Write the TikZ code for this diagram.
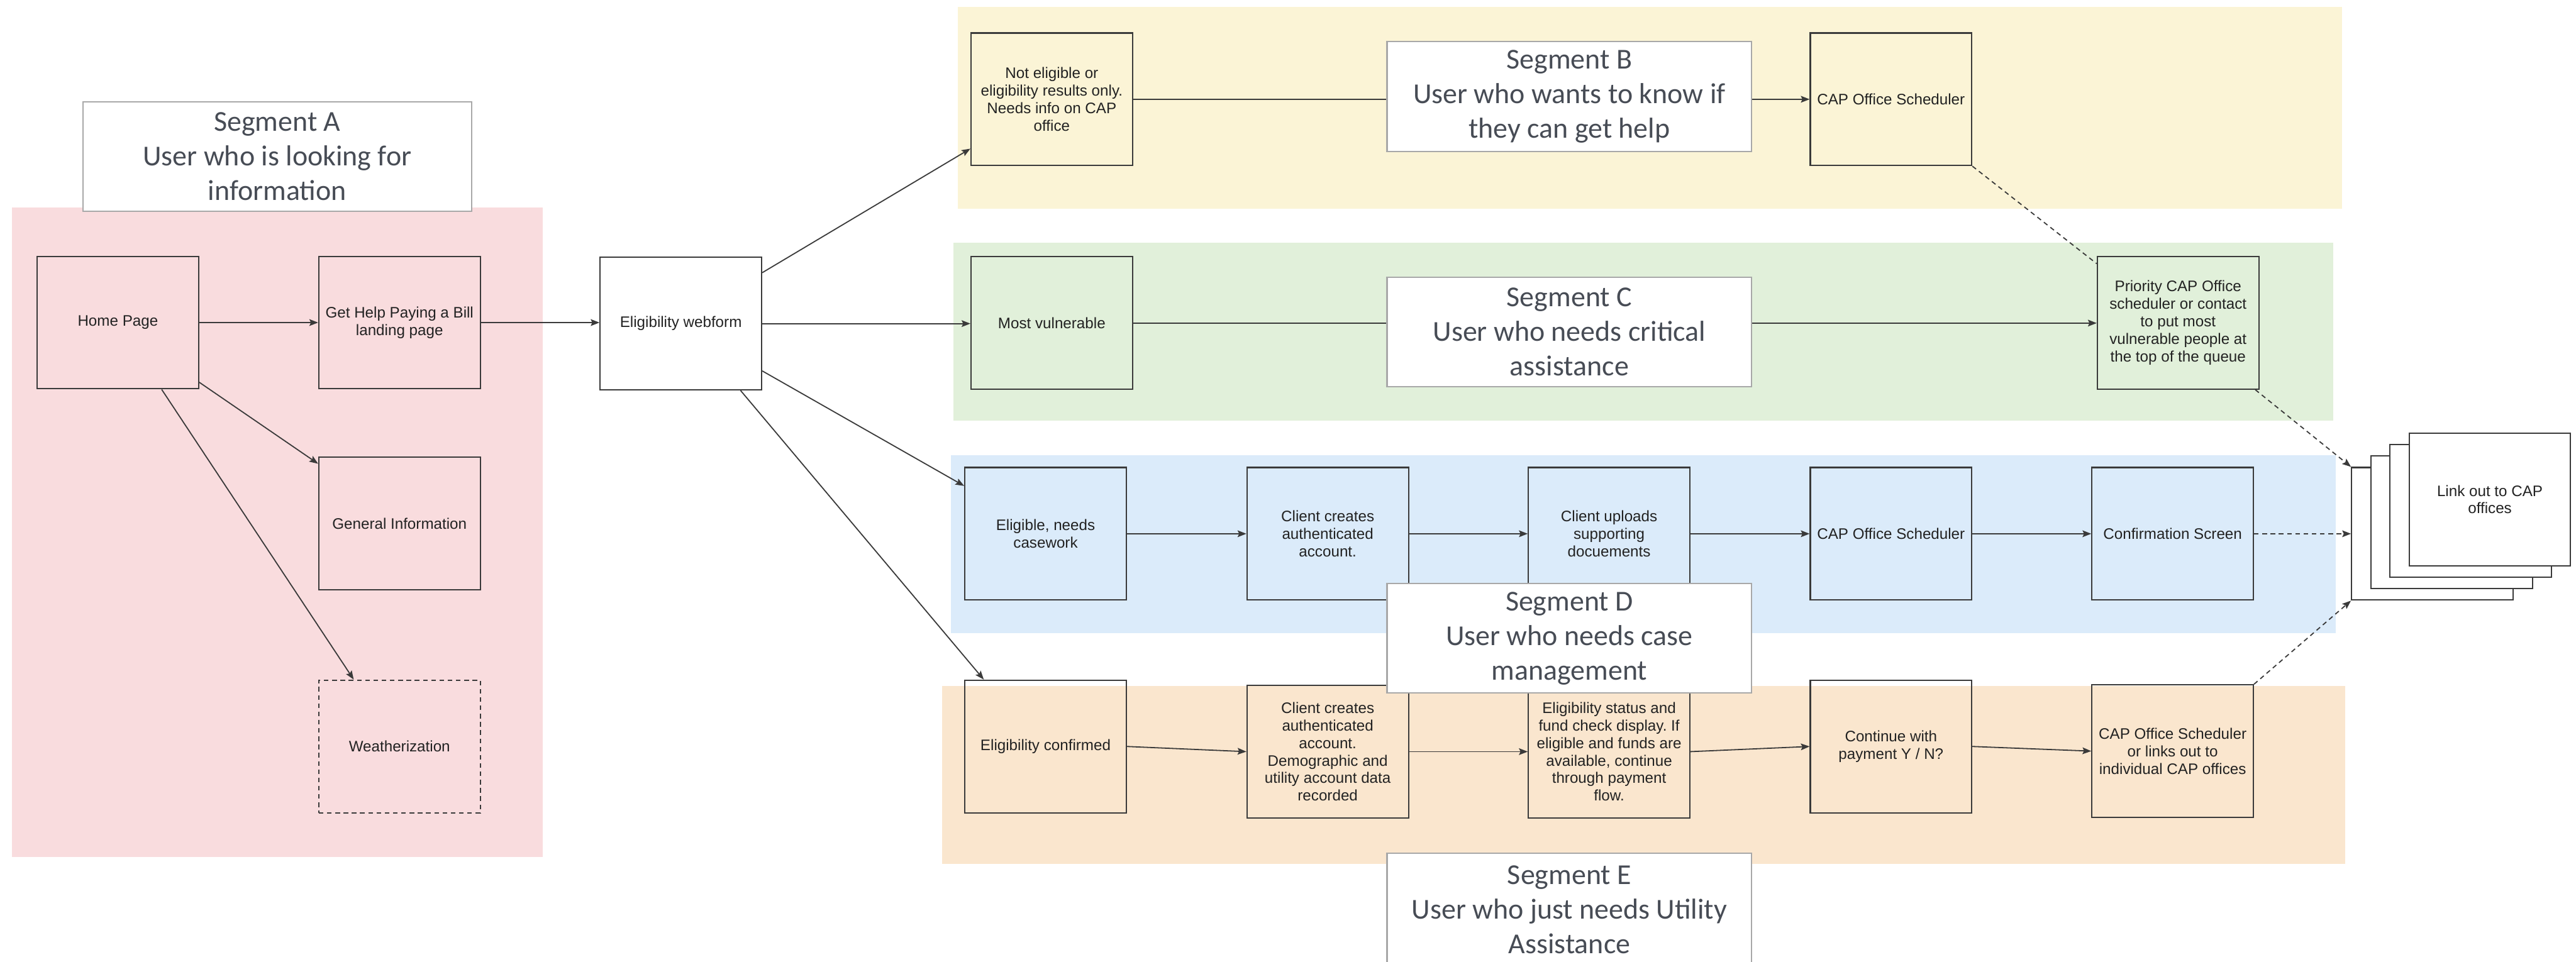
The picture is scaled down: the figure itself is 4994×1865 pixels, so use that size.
\documentclass[tikz,border=0pt]{standalone}
\usepackage{fontspec}
\setmainfont{Liberation Sans}
\newfontfamily\segfont{Carlito}
\usetikzlibrary{arrows.meta,calc}
\frenchspacing
\definecolor{pinkc}{HTML}{F9DCDE}
\definecolor{yellowc}{HTML}{FBF4D6}
\definecolor{greenc}{HTML}{E1F0DA}
\definecolor{bluec}{HTML}{DBEBFA}
\definecolor{orangec}{HTML}{FAE6CE}
\definecolor{boxline}{HTML}{3A3A3A}
\definecolor{txt}{HTML}{222222}
\definecolor{segtxt}{HTML}{474C55}
\definecolor{segline}{HTML}{A8A8A8}
\tikzset{
  stepbox/.style={draw=boxline, line width=2.5pt, minimum width=313pt, minimum height=257pt,
    inner sep=0pt, align=center, text=txt, font=\fontsize{29.5}{34}\selectfont},
  dashbox/.style={stepbox, dash pattern=on 9pt off 7pt},
  stackbox/.style={stepbox, fill=white},
  seglabel/.style={draw=segline, line width=2.5pt, fill=white, inner sep=0pt, align=center,
    text=segtxt, font=\segfont\fontsize{56}{67}\selectfont},
  conn/.style={draw=boxline, line width=2.2pt, -{Stealth[length=17pt,width=13pt,inset=3pt]}},
  dconn/.style={conn, dash pattern=on 9pt off 7pt},
  dline/.style={draw=boxline, line width=2.2pt, dash pattern=on 9pt off 7pt},
  pline/.style={draw=boxline, line width=2.2pt}
}
\begin{document}
\begin{tikzpicture}[x=1pt,y=-1pt]
\useasboundingbox (0,0) rectangle (4994,1865);
% regions
\fill[pinkc] (23,402) rectangle (1052,1662);
\fill[yellowc] (1857,13) rectangle (4540,405);
\fill[greenc] (1848,471) rectangle (4523,816);
\fill[bluec] (1844,883) rectangle (4528,1228);
\fill[orangec] (1827,1330) rectangle (4546,1675);

% Segment A boxes
\node[stepbox] (home) at (228.5,625.5) {Home Page};
\node[stepbox] (gethelp) at (774.5,625.5) {Get Help Paying a Bill\\landing page};
\node[stepbox] (geninfo) at (774.5,1015) {General Information};
\node[dashbox] (weather) at (774.5,1447.5) {Weatherization};
\node[stepbox] (webform) at (1320,627.5) {Eligibility webform};

% Segment B
\node[stepbox] (notelig) at (2039,192.5) {Not eligible or\\eligibility results only.\\Needs info on CAP\\office};
\node[stepbox] (schedB) at (3666,192.5) {CAP Office Scheduler};

% Segment C
\node[stepbox] (mostvul) at (2039,626.5) {Most vulnerable};
\node[stepbox] (priority) at (4222.5,626) {Priority CAP Office\\scheduler or contact\\to put most\\vulnerable people at\\the top of the queue};

% Segment D
\node[stepbox] (casework) at (2027,1035) {Eligible, needs\\casework};
\node[stepbox] (createD) at (2574,1035) {Client creates\\authenticated\\account.};
\node[stepbox] (uploads) at (3119.5,1035) {Client uploads\\supporting\\docuements};
\node[stepbox] (schedD) at (3666,1035) {CAP Office Scheduler};
\node[stepbox] (confirm) at (4212,1035) {Confirmation Screen};

% Segment E
\node[stepbox] (confirmed) at (2027,1447.5) {Eligibility confirmed};
\node[stepbox] (createE) at (2574,1457.5) {Client creates\\authenticated\\account.\\Demographic and\\utility account data\\recorded};
\node[stepbox] (status) at (3119.5,1457.5) {Eligibility status and\\fund check display. If\\eligible and funds are\\available, continue\\through payment\\flow.};
\node[stepbox] (payment) at (3666,1447.5) {Continue with\\payment Y / N?};
\node[stepbox] (schedE) at (4212,1456.5) {CAP Office Scheduler\\or links out to\\individual CAP offices};

% connectors A
\draw[conn] (home.east) -- (gethelp.west);
\draw[conn] ($(home.south east)+(0,-14)$) -- ($(geninfo.north west)+(0,14)$);
\draw[conn] ($(home.south)+(85,0)$) -- ($(weather.north west)+(69,0)$);
\draw[conn] (gethelp.east) -- (gethelp.east -| webform.west);
% from webform
\draw[conn] ($(webform.north east)+(0,31)$) -- ($(notelig.south west)+(0,-34)$);
\draw[conn] (webform.east) -- (webform.east -| mostvul.west);
\draw[conn] ($(webform.south east)+(0,-38)$) -- ($(casework.north west)+(0,37)$);
\draw[conn] ($(webform.south east)+(-42,0)$) -- ($(confirmed.north west)+(38,0)$);
% B, C
\draw[conn] (notelig.east) -- (schedB.west);
\draw[conn] (mostvul.east) -- (mostvul.east -| priority.west);
\draw[dline] (schedB.south east) -- ($(priority.north west)+(0,15)$);
% D chain
\draw[conn] (casework.east) -- (createD.west);
\draw[conn] (createD.east) -- (uploads.west);
\draw[conn] (uploads.east) -- (schedD.west);
\draw[conn] (schedD.east) -- (confirm.west);
% E chain
\draw[conn] (confirmed.east) -- (createE.west);
\draw[conn] (createE.east) -- (status.west);
\draw[conn] (status.east) -- (payment.west);
\draw[conn] (payment.east) -- (schedE.west);

% stack
\node[stackbox] (stack1) at (4715.5,1035) {};
\node[stackbox] (stack2) at (4753,1013) {};
\node[stackbox] (stack3) at (4790,990.5) {};
\node[stackbox] (stack4) at (4827,968.5) {Link out to CAP\\offices};

\draw[dconn] ($(priority.south east)+(-8,0)$) -- (stack1.north west);
\draw[dconn] (confirm.east) -- (stack1.west);
\draw[dconn] (schedE.north east) -- (stack1.south west);

% segment labels
\node[seglabel, minimum width=753pt, minimum height=213pt] (segA) at (537.5,303.5) {Segment A\\User who is looking for\\information};
\node[seglabel, minimum width=707pt, minimum height=213pt] (segB) at (3042.5,187.5) {Segment B\\User who wants to know if\\they can get help};
\node[seglabel, minimum width=707pt, minimum height=212pt] (segC) at (3042.5,644) {Segment C\\User who needs critical\\assistance};
\node[seglabel, minimum width=707pt, minimum height=212pt] (segD) at (3042.5,1238) {Segment D\\User who needs case\\management};
\node[seglabel, minimum width=707pt, minimum height=220pt] (segE) at (3042.5,1764) {Segment E\\User who just needs Utility\\Assistance};
\end{tikzpicture}
\end{document}
